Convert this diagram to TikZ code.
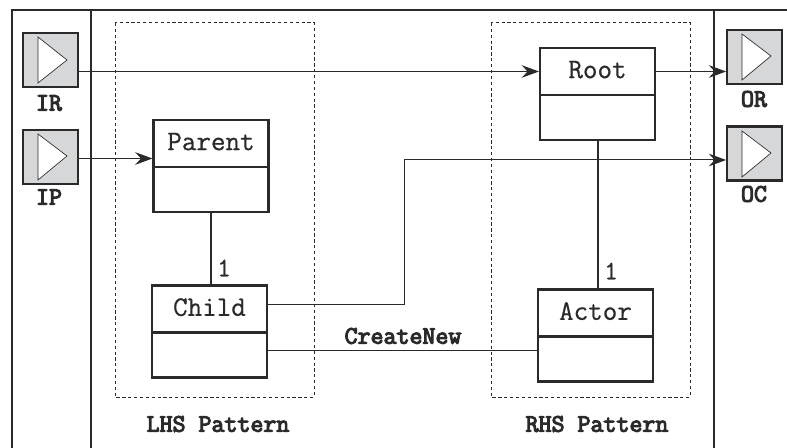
\documentclass[tikz,border=0pt]{standalone}
\usepackage{fontspec}
\usetikzlibrary{arrows.meta,calc}
\definecolor{ink}{HTML}{2A2A2A}
\definecolor{portgray}{HTML}{D6D7D9}
\newcommand{\heavy}[2]{\special{pdf:code 2 Tr #1 w}#2\special{pdf:code 0 Tr 1 w}}
\newcommand{\headtext}[1]{\raisebox{3pt}{\heavy{0.12}{#1}}}
\newcommand{\boldtext}[1]{\heavy{0.8}{#1}}
\tikzset{
  x=0.75pt,y=-0.75pt,
  every node/.style={text=ink},
  cell/.style={draw=ink,line width=1.6pt,fill=white,inner sep=0pt,minimum width=86.25pt,font=\ttfamily\fontsize{21.2}{21.2}\selectfont},
  headcell/.style={cell,minimum height=35.25pt},
  bodycell/.style={cell,minimum height=33.75pt},
  port/.style={draw=ink,line width=1.6pt,fill=portgray,inner sep=0pt,minimum width=41pt,minimum height=40.5pt},
  tri/.style={draw=ink,line width=0.5pt,fill=white},
  boldlabel/.style={font=\ttfamily\fontsize{18.9}{18.9}\selectfont,inner sep=0pt},
  plainlabel/.style={font=\ttfamily\fontsize{20}{20}\selectfont,inner sep=0pt},
  frameline/.style={draw=ink,line width=1.1pt},
  pattern box/.style={draw=ink,line width=0.75pt,dash pattern=on 2.4pt off 2pt},
  conn/.style={draw=ink,line width=0.75pt},
  flow/.style={conn,-{Stealth[length=13pt,width=9.5pt,inset=4.5pt]}},
  link/.style={draw=ink,line width=1.5pt},
}
\begin{document}
\begin{tikzpicture}
\useasboundingbox (0,0) rectangle (787,448);
% outer frame
\draw[frameline] (12,448) -- (12,10) -- (787,10);
\draw[frameline] (91,10) -- (91,448);
\draw[frameline] (714,10) -- (714,448);
% patterns
\draw[pattern box] (115,23) rectangle (314,397);
\draw[pattern box] (491,23) rectangle (690,397);
% ports
\node[port] (IR) at (50.5,60) {};
\node[port] (IP) at (50.5,157) {};
\node[port] (OR) at (754.5,57) {};
\node[port] (OC) at (754.5,153.5) {};
\draw[tri] (38,37) -- (67,60) -- (38,83) -- cycle;
\draw[tri] (38,134) -- (67,156) -- (38,180) -- cycle;
\draw[tri] (742,34) -- (771,56) -- (742,80) -- cycle;
\draw[tri] (742,131) -- (771,153) -- (742,177) -- cycle;
\node[boldlabel] at (49,103) {\boldtext{IR}};
\node[boldlabel] at (49,197) {\boldtext{IP}};
\node[boldlabel] at (754,99) {\boldtext{OR}};
\node[boldlabel] at (754,194) {\boldtext{OC}};
% classes
\node[headcell] (ParentH) at (211,143.5) {\headtext{Parent}};
\node[bodycell] (ParentB) at (211,189.5) {};
\node[headcell] (ChildH) at (209.5,309) {\headtext{Child}};
\node[bodycell] (ChildB) at (209.5,355) {};
\node[headcell] (RootH) at (597.5,71.5) {\headtext{Root}};
\node[bodycell] (RootB) at (597.5,117.5) {};
\node[headcell] (ActorH) at (595.5,313) {\headtext{Actor}};
\node[bodycell] (ActorB) at (595.5,359) {};
% connectors
\coordinate (ipentry) at ($(ParentH.west)+(0,15)$);
\draw[flow] (IP.east |- ipentry) -- (ipentry);
\draw[flow] (IR.east |- RootH.west) -- (RootH.west);
\draw[flow] (RootH.east) -- (OR.west |- RootH.east);
\coordinate (ocentry) at (OC.west |- 0,160);
\draw[flow] (ChildH.east |- 0,305) -- (404,305) -- (404,160) -- (ocentry);
\draw[conn] (ChildB.east |- 0,350) -- (ActorB.west |- 0,350);
\draw[link] (ParentB.south) -- (ChildH.north -| ParentB.south);
\draw[link] (RootB.south) -- (ActorH.north -| RootB.south);
% labels
\node[plainlabel] at (224,268) {\heavy{0.12}{1}};
\node[plainlabel] at (611,271) {\heavy{0.12}{1}};
\node[boldlabel] at (403,336) {\boldtext{CreateNew}};
\node[boldlabel] at (218,424) {\boldtext{LHS Pattern}};
\node[boldlabel] at (597,424) {\boldtext{RHS Pattern}};
\end{tikzpicture}
\end{document}
